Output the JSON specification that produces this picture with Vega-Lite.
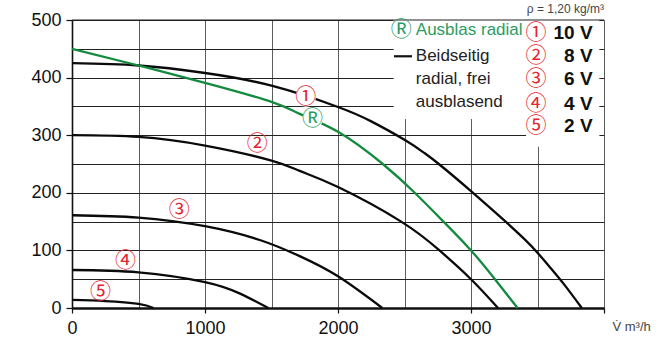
{
  "$schema": "https://vega.github.io/schema/vega-lite/v6.json",
  "width": 532,
  "height": 288,
  "autosize": "none",
  "padding": {"left": 72, "top": 20, "right": 62, "bottom": 32},
  "background": "white",
  "config": {"view": {"stroke": null}, "font": "Liberation Sans"},
  "title": {"text": "ρ = 1,20 kg/m³", "anchor": "end", "frame": "group", "fontSize": 12, "fontWeight": "normal", "color": "#444444", "offset": -5, "font": "Liberation Sans"},
  "datasets": {
    "curves": [
      {"series": "1", "flow": 0, "dp": 425}, {"series": "1", "flow": 500, "dp": 421}, {"series": "1", "flow": 1000, "dp": 408}, {"series": "1", "flow": 1500, "dp": 386}, {"series": "1", "flow": 2000, "dp": 349}, {"series": "1", "flow": 2250, "dp": 324}, {"series": "1", "flow": 2500, "dp": 292}, {"series": "1", "flow": 2650, "dp": 269}, {"series": "1", "flow": 2758, "dp": 250}, {"series": "1", "flow": 3000, "dp": 203}, {"series": "1", "flow": 3250, "dp": 152}, {"series": "1", "flow": 3400, "dp": 120}, {"series": "1", "flow": 3500, "dp": 96}, {"series": "1", "flow": 3600, "dp": 69}, {"series": "1", "flow": 3700, "dp": 41}, {"series": "1", "flow": 3833, "dp": 0},
      {"series": "2", "flow": 0, "dp": 300}, {"series": "2", "flow": 500, "dp": 297}, {"series": "2", "flow": 1000, "dp": 282}, {"series": "2", "flow": 1500, "dp": 256}, {"series": "2", "flow": 1712, "dp": 238}, {"series": "2", "flow": 2000, "dp": 210}, {"series": "2", "flow": 2475, "dp": 150}, {"series": "2", "flow": 2763, "dp": 100}, {"series": "2", "flow": 3000, "dp": 50}, {"series": "2", "flow": 3203, "dp": 0},
      {"series": "3", "flow": 0, "dp": 161}, {"series": "3", "flow": 500, "dp": 157}, {"series": "3", "flow": 1000, "dp": 142}, {"series": "3", "flow": 1412, "dp": 118}, {"series": "3", "flow": 1712, "dp": 90}, {"series": "3", "flow": 2000, "dp": 55}, {"series": "3", "flow": 2333, "dp": 0},
      {"series": "4", "flow": 0, "dp": 66}, {"series": "4", "flow": 500, "dp": 62}, {"series": "4", "flow": 1000, "dp": 45}, {"series": "4", "flow": 1264, "dp": 25}, {"series": "4", "flow": 1476, "dp": 0},
      {"series": "5", "flow": 0, "dp": 14}, {"series": "5", "flow": 250, "dp": 12}, {"series": "5", "flow": 500, "dp": 7}, {"series": "5", "flow": 613, "dp": 0},
      {"series": "R", "flow": 0, "dp": 450}, {"series": "R", "flow": 500, "dp": 421}, {"series": "R", "flow": 1000, "dp": 391}, {"series": "R", "flow": 1500, "dp": 358}, {"series": "R", "flow": 1712, "dp": 337}, {"series": "R", "flow": 2000, "dp": 306}, {"series": "R", "flow": 2337, "dp": 250}, {"series": "R", "flow": 2577, "dp": 200}, {"series": "R", "flow": 2793, "dp": 150}, {"series": "R", "flow": 3000, "dp": 100}, {"series": "R", "flow": 3180, "dp": 50}, {"series": "R", "flow": 3350, "dp": 0}
    ],
    "curveLabels": [
      {"series": "1", "label": "①", "flow": 1758, "dp": 367},
      {"series": "R", "label": "Ⓡ", "flow": 1808, "dp": 328},
      {"series": "2", "label": "②", "flow": 1392, "dp": 285},
      {"series": "3", "label": "③", "flow": 807, "dp": 170},
      {"series": "4", "label": "④", "flow": 403, "dp": 81},
      {"series": "5", "label": "⑤", "flow": 215, "dp": 28}
    ],
    "boxes": [
      {"flow": 2418, "flow2": 3414, "dp": 328, "dp2": 500},
      {"flow": 3414, "flow2": 3965, "dp": 280, "dp2": 500}
    ],
    "border": [
      {"flow": 0, "flow2": 4000, "dp": 500, "dp2": 500}
    ],
    "legendDash": [
      {"flow": 2421, "flow2": 2556, "dp": 437}
    ],
    "legend": [
      {"role": "greenSymbol", "text": "Ⓡ", "flow": 2475, "dp": 482},
      {"role": "green", "text": "Ausblas radial", "flow": 2585, "dp": 482},
      {"role": "black", "text": "Beidseitig", "flow": 2585, "dp": 438},
      {"role": "black", "text": "radial, frei", "flow": 2585, "dp": 398},
      {"role": "black", "text": "ausblasend", "flow": 2585, "dp": 358},
      {"role": "num", "text": "①", "flow": 3488, "dp": 478},
      {"role": "num", "text": "②", "flow": 3488, "dp": 437},
      {"role": "num", "text": "③", "flow": 3488, "dp": 397},
      {"role": "num", "text": "④", "flow": 3488, "dp": 355},
      {"role": "num", "text": "⑤", "flow": 3488, "dp": 316},
      {"role": "volt", "text": "10 V", "flow": 3914, "dp": 478},
      {"role": "volt", "text": "8 V", "flow": 3914, "dp": 437},
      {"role": "volt", "text": "6 V", "flow": 3914, "dp": 397},
      {"role": "volt", "text": "4 V", "flow": 3914, "dp": 355},
      {"role": "volt", "text": "2 V", "flow": 3914, "dp": 316}
    ]
  },
  "encoding": {
    "x": {
      "field": "flow", "type": "quantitative",
      "scale": {"domain": [0, 4000], "nice": false, "zero": false},
      "axis": {
        "values": [0, 500, 1000, 1500, 2000, 2500, 3000, 3500, 4000],
        "format": "d",
        "labelExpr": "datum.value % 1000 === 0 && datum.value < 4000 ? datum.label : ''",
        "labelFlush": false, "labelOverlap": false,
        "labelFontSize": 18, "labelColor": "#111111", "labelPadding": 6,
        "grid": true, "gridColor": "#5c5c5c", "gridWidth": 1,
        "tickSize": 5, "tickColor": "#111111", "tickWidth": 1.2,
        "tickOpacity": {"condition": {"test": "datum.value % 1000 === 0", "value": 1}, "value": 0},
        "domainColor": "#111111", "domainWidth": 2.5,
        "title": "V̇  m³/h", "titleX": 540, "titleY": 18, "titleAlign": "left", "titleBaseline": "middle",
        "titleFontSize": 13, "titleFontWeight": "normal", "titleColor": "#444444"
      }
    },
    "y": {
      "field": "dp", "type": "quantitative",
      "scale": {"domain": [0, 500], "nice": false},
      "axis": {
        "values": [0, 50, 100, 150, 200, 250, 300, 350, 400, 450, 500],
        "labelExpr": "datum.value % 100 === 0 ? datum.label : ''",
        "labelOverlap": false, "labelFlush": false,
        "labelFontSize": 18, "labelColor": "#111111", "labelPadding": 5,
        "grid": true, "gridColor": "#222222", "gridWidth": 1,
        "tickSize": 6, "tickColor": "#111111", "tickWidth": 1.2,
        "tickOpacity": {"condition": {"test": "datum.value % 100 === 0", "value": 1}, "value": 0},
        "domainColor": "#111111", "domainWidth": 1.6,
        "title": null
      }
    }
  },
  "layer": [
    {
      "data": {"name": "boxes"},
      "mark": {"type": "rect", "fill": "white", "strokeWidth": 0},
      "encoding": {"x2": {"field": "flow2"}, "y2": {"field": "dp2"}}
    },
    {
      "data": {"name": "border"},
      "mark": {"type": "rule", "color": "#222222", "strokeWidth": 1.2},
      "encoding": {"x2": {"field": "flow2"}, "y2": {"field": "dp2"}}
    },
    {
      "data": {"name": "curves"},
      "mark": {"type": "line", "interpolate": "natural", "strokeWidth": 2.3},
      "encoding": {
        "color": {"field": "series", "type": "nominal", "scale": {"domain": ["1", "2", "3", "4", "5", "R"], "range": ["#0a0a0a", "#0a0a0a", "#0a0a0a", "#0a0a0a", "#0a0a0a", "#138a3e"]}, "legend": null}
      }
    },
    {
      "data": {"name": "curveLabels"},
      "transform": [{"filter": "datum.series === '1' || datum.series === 'R'"}],
      "mark": {"type": "point", "filled": true, "color": "white", "opacity": 1, "size": 420, "shape": "circle"}
    },
    {
      "data": {"name": "curveLabels"},
      "mark": {"type": "text", "font": "Noto Sans CJK JP", "fontSize": 21, "align": "center", "baseline": "middle"},
      "encoding": {
        "text": {"field": "label"},
        "color": {"condition": {"test": "datum.series === 'R'", "value": "#2b9c62"}, "value": "#e42530"}
      }
    },
    {
      "data": {"name": "legendDash"},
      "mark": {"type": "rule", "color": "#111111", "strokeWidth": 2.2},
      "encoding": {"x2": {"field": "flow2"}}
    },
    {
      "data": {"name": "legend"},
      "transform": [{"filter": "datum.role === 'greenSymbol'"}],
      "mark": {"type": "text", "font": "Noto Sans CJK JP", "fontSize": 21, "align": "center", "baseline": "middle", "color": "#2b9c62"},
      "encoding": {"text": {"field": "text"}}
    },
    {
      "data": {"name": "legend"},
      "transform": [{"filter": "datum.role === 'green'"}],
      "mark": {"type": "text", "font": "Liberation Sans", "fontSize": 17, "align": "left", "baseline": "middle", "color": "#2b9c62"},
      "encoding": {"text": {"field": "text"}}
    },
    {
      "data": {"name": "legend"},
      "transform": [{"filter": "datum.role === 'black'"}],
      "mark": {"type": "text", "font": "Liberation Sans", "fontSize": 17, "align": "left", "baseline": "middle", "color": "#222222"},
      "encoding": {"text": {"field": "text"}}
    },
    {
      "data": {"name": "legend"},
      "transform": [{"filter": "datum.role === 'num'"}],
      "mark": {"type": "text", "font": "Noto Sans CJK JP", "fontSize": 21, "align": "center", "baseline": "middle", "color": "#e42530"},
      "encoding": {"text": {"field": "text"}}
    },
    {
      "data": {"name": "legend"},
      "transform": [{"filter": "datum.role === 'volt'"}],
      "mark": {"type": "text", "font": "Liberation Sans", "fontSize": 19, "fontWeight": "bold", "align": "right", "baseline": "middle", "color": "#111111"},
      "encoding": {"text": {"field": "text"}}
    }
  ]
}
